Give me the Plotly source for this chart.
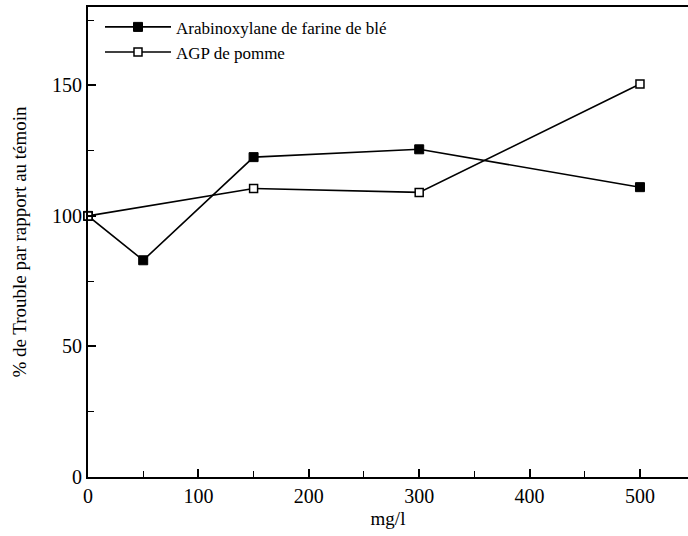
import plotly.graph_objects as go

conc_arab = [0, 50, 150, 300, 500]
vals_arab = [100, 83, 122.5, 125.5, 111]
conc_agp = [0, 150, 300, 500]
vals_agp = [100, 110.5, 109, 150.5]

name_arab = "Arabinoxylane de farine de blé"
name_agp = "AGP de pomme"
x_title = "mg/l"
y_title = "% de Trouble par rapport au témoin"

FONT = "Times New Roman, Liberation Serif, DejaVu Serif, serif"

fig = go.Figure()
fig.add_trace(go.Scatter(
    x=conc_arab, y=vals_arab, name=name_arab, mode="lines+markers",
    line=dict(color="black", width=1.6),
    marker=dict(symbol="square", size=9, color="black", line=dict(color="black", width=1)),
    cliponaxis=False,
))
fig.add_trace(go.Scatter(
    x=conc_agp, y=vals_agp, name=name_agp, mode="lines+markers",
    line=dict(color="black", width=1.6),
    marker=dict(symbol="square", size=8, color="white", line=dict(color="black", width=1.5)),
    cliponaxis=False,
))

fig.update_layout(
    width=688, height=536,
    margin=dict(l=88, r=0, t=7, b=59),
    paper_bgcolor="white", plot_bgcolor="white",
    font=dict(family=FONT, color="black", size=18),
    showlegend=True,
    legend=dict(
        x=0.02, y=0.995, xanchor="left", yanchor="top",
        font=dict(family=FONT, size=17, color="black"),
        bgcolor="rgba(0,0,0,0)", borderwidth=0,
        itemwidth=66, tracegroupgap=0,
    ),
    xaxis=dict(
        range=[0, 543.5], tickvals=[0, 100, 200, 300, 400, 500],
        ticks="inside", ticklen=8, tickwidth=1.5, tickcolor="black",
        showline=True, linecolor="black", linewidth=2, mirror=True,
        showgrid=False, zeroline=False,
        tickfont=dict(family=FONT, size=20),
        minor=dict(dtick=50, tick0=0, ticks="inside", ticklen=6, tickwidth=1.2, tickcolor="black"),
        title=dict(text=x_title, font=dict(family=FONT, size=19), standoff=6),
    ),
    yaxis=dict(
        range=[0, 180], tickvals=[0, 50, 100, 150],
        ticks="inside", ticklen=8, tickwidth=1.5, tickcolor="black",
        showline=True, linecolor="black", linewidth=2,
        showgrid=False, zeroline=False,
        tickfont=dict(family=FONT, size=20),
        minor=dict(dtick=25, tick0=0, ticks="inside", ticklen=6, tickwidth=1.2, tickcolor="black"),
        title=dict(text=y_title, font=dict(family=FONT, size=19), standoff=20),
    ),
)

fig.write_html("out.html")
